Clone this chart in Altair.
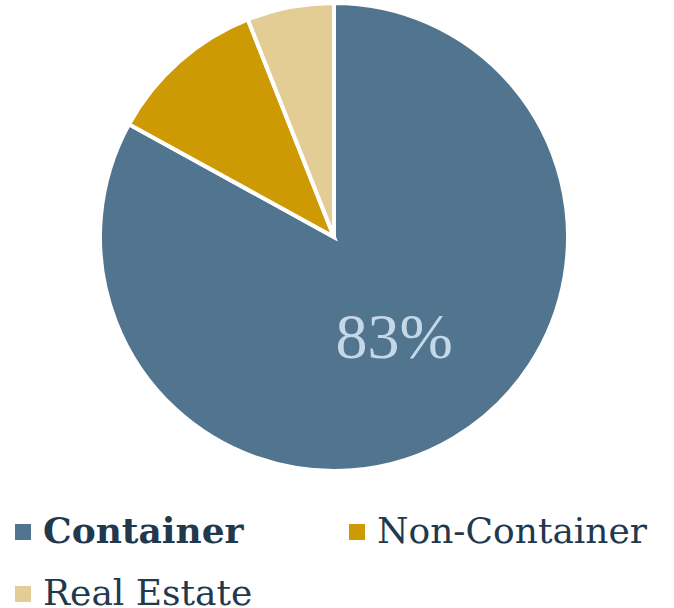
import altair as alt
import pandas as pd

categories = ["Container", "Non-Container", "Real Estate"]
shares = [83, 11, 6]
colors = ["#52758F", "#CD9A03", "#E4CD95"]
ranks = [0, 1, 2]

df = pd.DataFrame({"category": categories, "share": shares, "rank": ranks})

legend = alt.Legend(
    title=None,
    orient="none",
    direction="horizontal",
    legendX=5,
    legendY=514,
    columns=2,
    symbolType="square",
    symbolSize=256,
    symbolStrokeWidth=0,
    symbolOpacity=1,
    labelFont="DejaVu Serif",
    labelFontSize=36,
    labelColor="#22384D",
    labelOffset=2,
    labelLimit=0,
    columnPadding=86,
    rowPadding=26,
    padding=0,
    labelFontWeight={"expr": "datum.label == 'Container' ? 'bold' : 'normal'"},
)

pie = alt.Chart(df).mark_arc(outerRadius=234, stroke="white", strokeWidth=4).encode(
    theta=alt.Theta("share:Q", stack=True),
    order=alt.Order("rank:Q"),
    color=alt.Color("category:N", scale=alt.Scale(domain=categories, range=colors), legend=legend),
)

text = alt.Chart(df).transform_calculate(
    label="datum.category == 'Container' ? datum.share + '%' : ''"
).mark_text(radius=118, font="Liberation Serif", fontSize=64, color="#C5D8E8").encode(
    theta=alt.Theta("share:Q", stack=True),
    order=alt.Order("rank:Q"),
    text="label:N",
)

chart = alt.layer(pie, text).properties(
    width=668,
    height=474,
    padding={"left": 0, "top": 0, "right": 6, "bottom": 134},
    autosize=alt.AutoSizeParams(type="none"),
).configure_view(stroke=None)

chart.save("out.html", embed_options={"renderer": "svg", "actions": False})
